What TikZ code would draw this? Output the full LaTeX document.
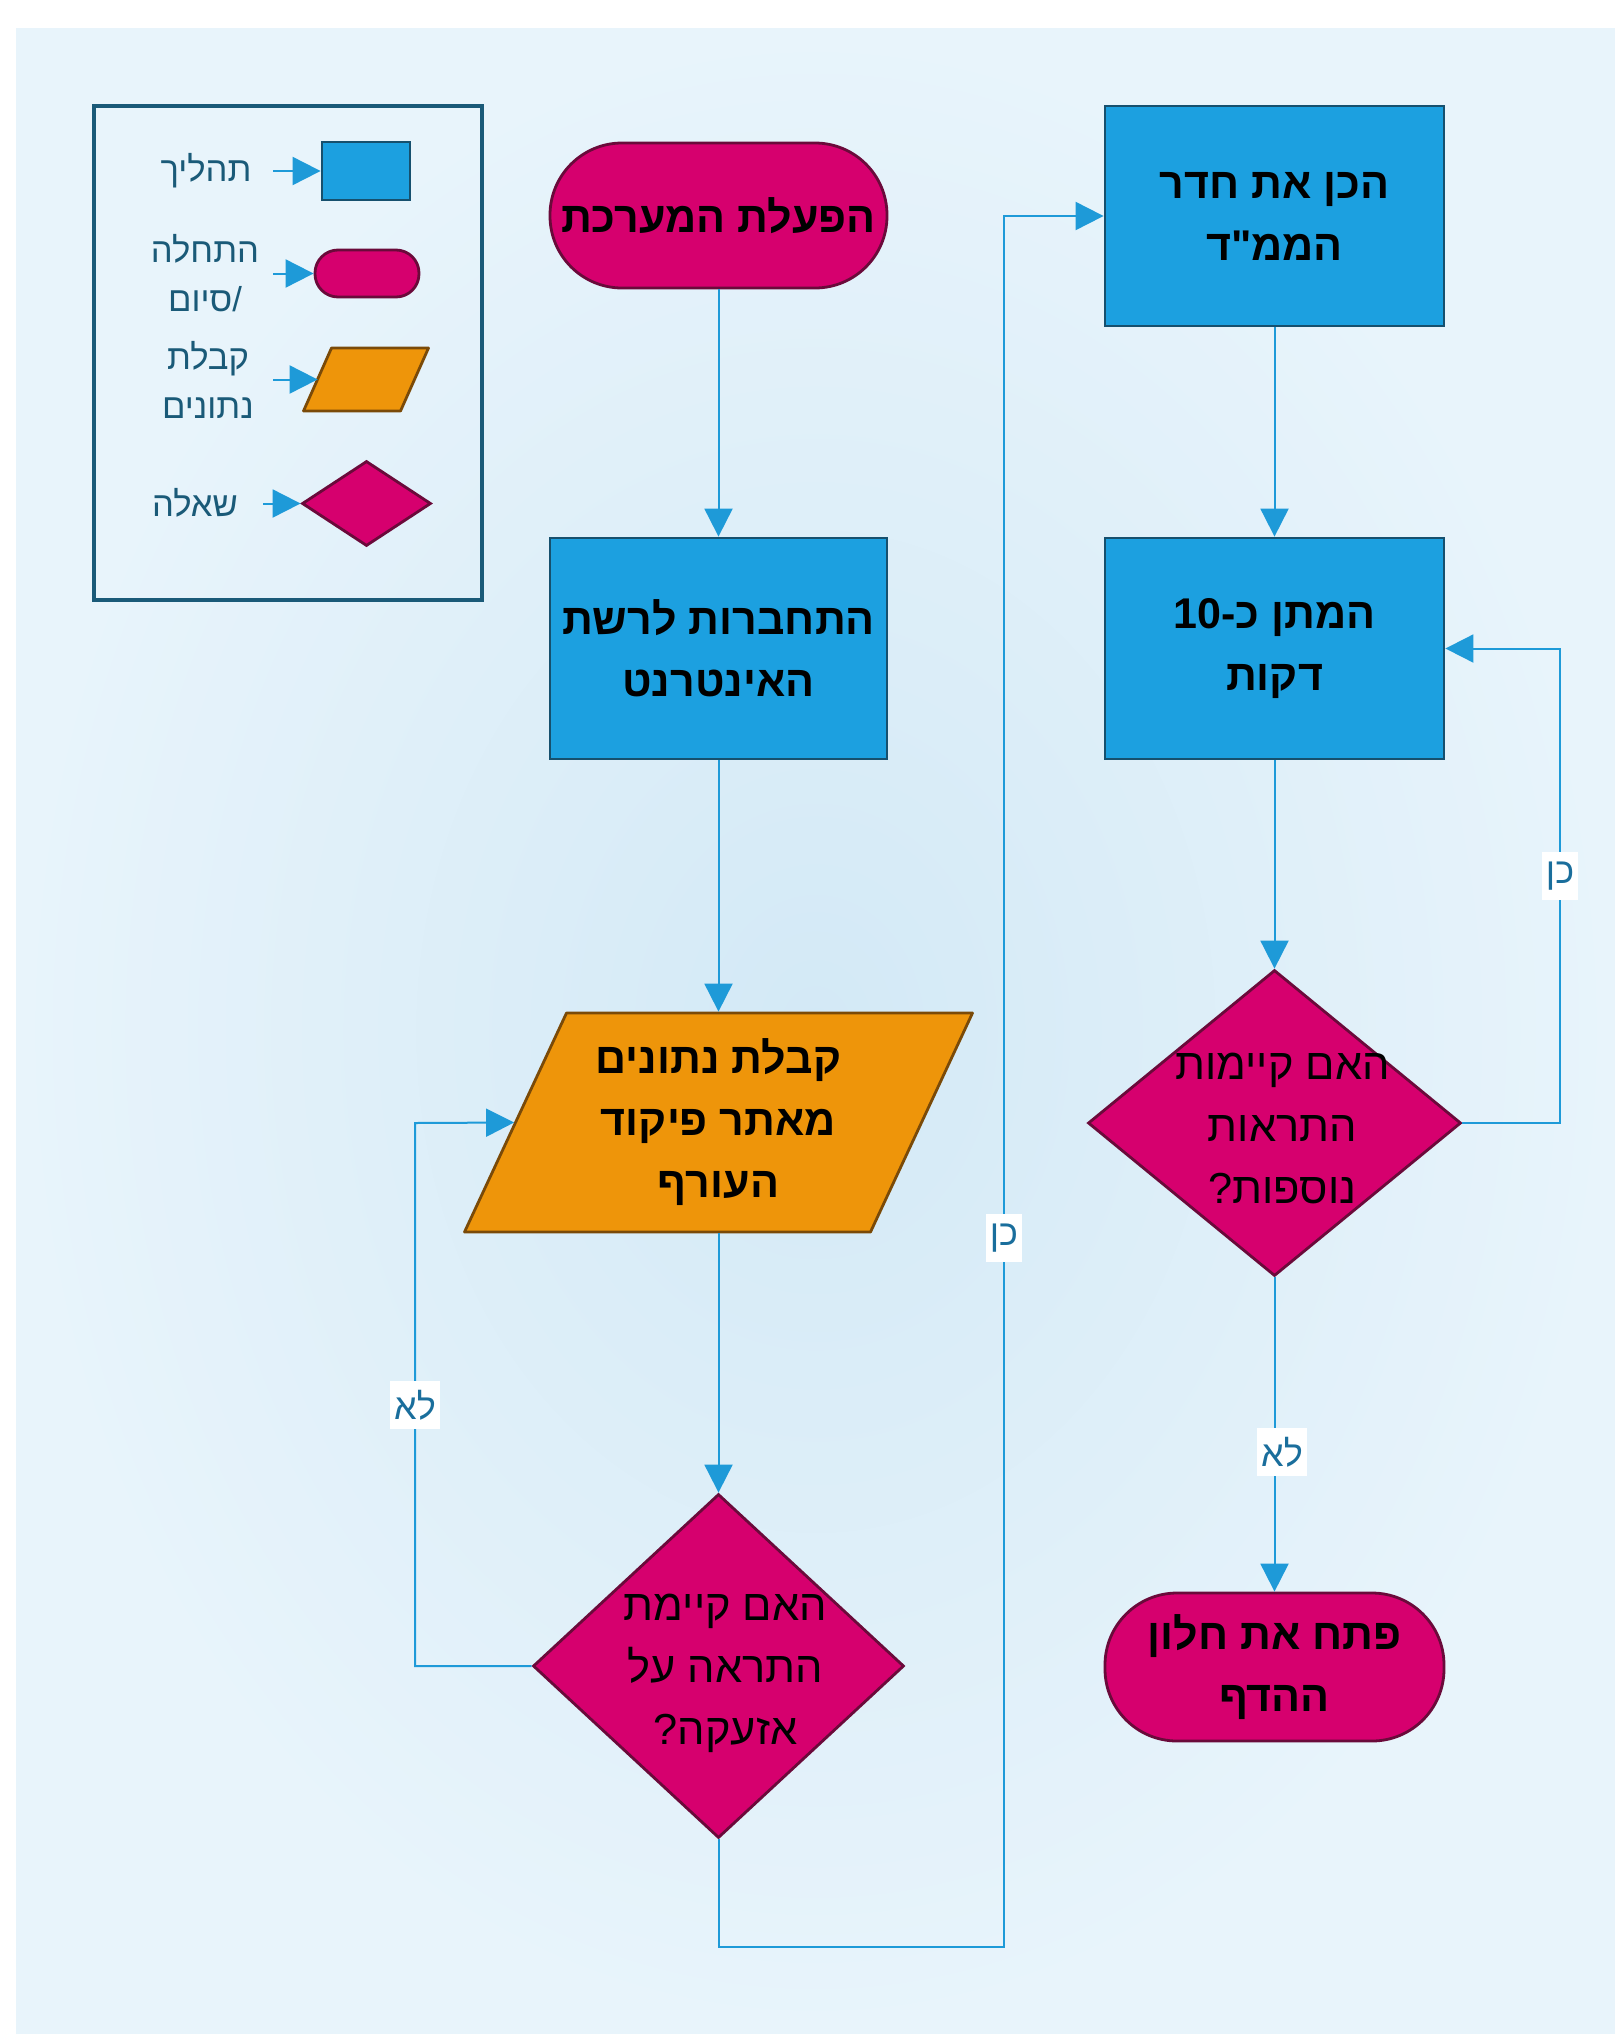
\documentclass[tikz,border=0pt]{standalone}
\usepackage{fontspec}
\usetikzlibrary{shapes.geometric,arrows.meta,calc}
\TeXXeTstate=1
\newfontfamily\heb[Script=Hebrew]{Liberation Sans}
\newcommand\hebline[1]{\beginR#1\endR}
\definecolor{procfill}{HTML}{1CA0E0}
\definecolor{procdraw}{HTML}{16506E}
\definecolor{termfill}{HTML}{D6006E}
\definecolor{termdraw}{HTML}{6A0A3A}
\definecolor{datafill}{HTML}{EE950A}
\definecolor{datadraw}{HTML}{7A4A08}
\definecolor{conncol}{HTML}{1E9AD8}
\definecolor{legdraw}{HTML}{1A5A78}
\definecolor{labtext}{HTML}{1A6E9C}
\definecolor{bgin}{HTML}{D3E9F6}
\definecolor{bgout}{HTML}{E8F4FB}
\begin{document}
\begin{tikzpicture}[x=0.5pt,y=-0.5pt,
 every node/.style={font=\heb},
 base/.style={line width=1.4pt, inner sep=0pt, align=center, font=\heb\bfseries\fontsize{21.5}{31}\selectfont},
 proc/.style={base, rectangle, draw=procdraw, fill=procfill},
 term/.style={base, rectangle, draw=termdraw, fill=termfill},
 datashape/.style={draw=datadraw, fill=datafill, line width=1.4pt, line join=round},
 decision/.style={diamond, draw=termdraw, fill=termfill, line width=1.4pt, inner sep=0pt},
 dtext/.style={align=center, inner sep=0pt, font=\heb\fontsize{21.7}{31}\selectfont},
 conn/.style={draw=conncol, line width=1pt, -{Triangle[length=14pt,width=14pt]}},
 lab/.style={fill=white, text=labtext, font=\heb\fontsize{18}{22}\selectfont, inner xsep=2pt, inner ysep=0pt, minimum height=24pt},
 legtext/.style={text=legdraw, align=center, inner sep=0pt, font=\heb\fontsize{17.3}{24.5}\selectfont},
]
\useasboundingbox (0,0) rectangle (1615,2034);
\fill[white] (0,0) rectangle (1615,2034);
\shade[inner color=bgin, outer color=bgout] (16,28) rectangle (1615,2034);

% legend
\node[draw=legdraw, line width=2.2pt, minimum width=194pt, minimum height=247pt, inner sep=0pt] (legend) at (288,353) {};
\node[proc, minimum width=44pt, minimum height=29pt] (lp) at (366,171) {};
\node[term, rounded corners=11.5pt, minimum width=52pt, minimum height=23.5pt] (lt) at (367,273.5) {};
\coordinate (ldc) at (366,379.5);
\draw[datashape] ($(ldc)+(-62.5,31.5)$) -- ($(ldc)+(34.5,31.5)$) -- ($(ldc)+(62.5,-31.5)$) -- ($(ldc)+(-34.5,-31.5)$) -- cycle;
\node[inner sep=0pt, minimum width=48pt, minimum height=31.5pt] (ld) at (ldc) {};
\node[decision, minimum width=64.5pt, minimum height=42.5pt] (ldec) at (366.5,503.5) {};
\coordinate (la1) at (273,171);
\coordinate (la2) at (273,273.5);
\coordinate (la3) at (273,379.5);
\coordinate (la4) at (263,503.5);
\draw[conn] (la1) -- (lp.west);
\draw[conn] (la2) -- (lt.west);
\draw[conn] (la3) -- (ld.west);
\draw[conn] (la4) -- (ldec.west);
\node[legtext] (lx1) at (206,171) {\hebline{תהליך}};
\node[legtext] (lx2) at (205,273) {\hebline{התחלה}\\\hebline{\hbox{/}סיום}};
\node[legtext] (lx3) at (208,380) {\hebline{קבלת}\\\hebline{נתונים}};
\node[legtext] (lx4) at (195,503) {\hebline{שאלה}};

% main nodes
\node[term, rounded corners=36pt, minimum width=168.5pt, minimum height=72.5pt] (start) at (718.5,215.5) {\hebline{הפעלת המערכת}};
\node[proc, minimum width=168.5pt, minimum height=110.5pt] (proc1) at (718.5,648.5) {\hebline{התחברות לרשת}\\\hebline{האינטרנט}};
\coordinate (pc) at (718.5,1122.5);
\draw[datashape] ($(pc)+(-254,109.5)$) -- ($(pc)+(152,109.5)$) -- ($(pc)+(254,-109.5)$) -- ($(pc)+(-152,-109.5)$) -- cycle;
\node[base, minimum width=203pt, minimum height=109.5pt] (p) at (pc) {\hebline{קבלת נתונים}\\\hebline{מאתר פיקוד}\\\hebline{העורף}};
\node[decision, minimum width=185.5pt, minimum height=172pt] (d1) at (718.5,1666) {};
\node[dtext] (d1t) at ($(d1)+(7,7)$) {\hebline{האם קיימת}\\\hebline{התראה על}\\\hebline{אזעקה\hbox{?}}};
\node[proc, minimum width=169.5pt, minimum height=110pt] (proc2) at (1274.5,216) {\hebline{הכן את חדר}\\\hebline{הממ\hbox{"}ד}};
\node[proc, minimum width=169.5pt, minimum height=110.5pt] (proc3) at (1274.5,648.5) {\hebline{המתן כ\hbox{-}\beginL 10\endL}\\\hebline{דקות}};
\node[decision, minimum width=186.5pt, minimum height=153pt] (d2) at (1274.5,1123) {};
\node[dtext] (d2t) at ($(d2)+(8,5)$) {\hebline{האם קיימות}\\\hebline{התראות}\\\hebline{נוספות\hbox{?}}};
\node[term, rounded corners=36pt, minimum width=169.5pt, minimum height=74pt] (end) at (1274.5,1667) {\hebline{פתח את חלון}\\\hebline{ההדף}};

% connectors
\coordinate (nL) at (415,1123);
\coordinate (cB) at (1004,1947);
\coordinate (cR) at (1560,1123);
\draw[conn] (start) -- (proc1);
\draw[conn] (proc1) -- (p);
\draw[conn] (p) -- (d1);
\draw[conn] (d1.west) -| (nL) -- (p.west);
\draw[conn] (d1.south) |- (cB) |- (proc2.west);
\draw[conn] (proc2) -- (proc3);
\draw[conn] (proc3) -- (d2);
\draw[conn] (d2.east) -- (cR) |- (proc3.east);
\draw[conn] (d2) -- (end);

% labels
\node[lab] (no1) at (415,1405) {\hebline{לא}};
\node[lab] (yes1) at (1004,1238) {\hebline{כן}};
\node[lab] (yes2) at (1560,876) {\hebline{כן}};
\node[lab] (no2) at (1282,1452) {\hebline{לא}};
\end{tikzpicture}
\end{document}
